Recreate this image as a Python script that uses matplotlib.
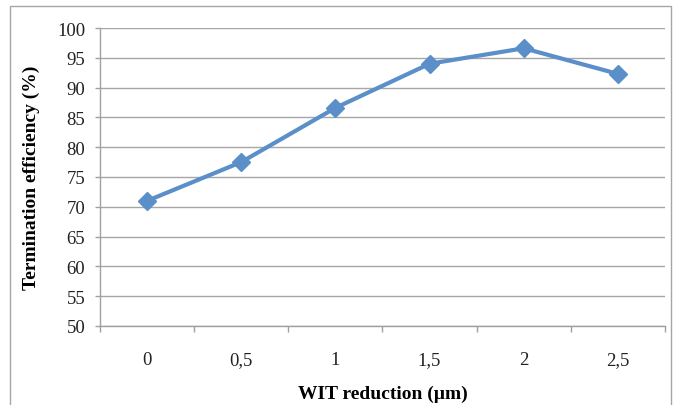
import matplotlib
matplotlib.use("Agg")
import matplotlib.pyplot as plt
from matplotlib.patches import Rectangle
import numpy as np

categories = ["0", "0,5", "1", "1,5", "2", "2,5"]
values = [71.0, 77.5, 86.6, 94.0, 96.6, 92.3]
yticks = [50, 55, 60, 65, 70, 75, 80, 85, 90, 95, 100]

W, H = 673, 406
fig = plt.figure(figsize=(W / 100, H / 100), dpi=100)
plt.rcParams['font.family'] = ['Liberation Serif', 'DejaVu Serif']

# outer chart border
fig.patches.append(Rectangle((10 / W, -0.05), (671 - 10) / W, 1.05 - 7 / H,
                             transform=fig.transFigure, fill=False,
                             edgecolor='#A6A6A6', linewidth=1.0))

ax = fig.add_axes([100 / W, 1 - 327 / H, (665 - 100) / W, (327 - 29) / H])
x = np.arange(len(categories))
ax.plot(x, values, color='#5B8FC9', linewidth=3.0, marker='D', markersize=9,
        markeredgecolor='#5B8FC9', markerfacecolor='#5B8FC9', zorder=3)

ax.set_xlim(-0.5, len(categories) - 0.5)
ax.set_ylim(50, 100)
ax.set_yticks(yticks)
ax.set_yticklabels([str(v) for v in yticks], fontsize=13.5, color='#222222')
ax.set_xticks(x)
ax.set_xticklabels(categories, fontsize=13.5, color='#222222')
ax.set_xticks(np.arange(-0.5, len(categories)), minor=True)
ax.tick_params(axis='x', which='major', length=0, pad=18)
ax.tick_params(axis='x', which='minor', length=4.5, color='#A0A0A0', width=1, direction='out')
ax.tick_params(axis='y', length=3.6, color='#A0A0A0', width=1, pad=7)

ax.yaxis.grid(True, color='#A6A6A6', linewidth=1.0)
ax.set_axisbelow(True)
for s in ['top', 'right']:
    ax.spines[s].set_visible(False)
for s in ['left', 'bottom']:
    ax.spines[s].set_color('#A0A0A0')
    ax.spines[s].set_linewidth(1.0)

ax.set_ylabel('Termination efficiency (%)', fontsize=14, fontweight='bold', labelpad=12)
ax.set_xlabel('WIT reduction (µm)', fontsize=14, fontweight='bold', labelpad=12)

fig.savefig('out.png', dpi=100)
